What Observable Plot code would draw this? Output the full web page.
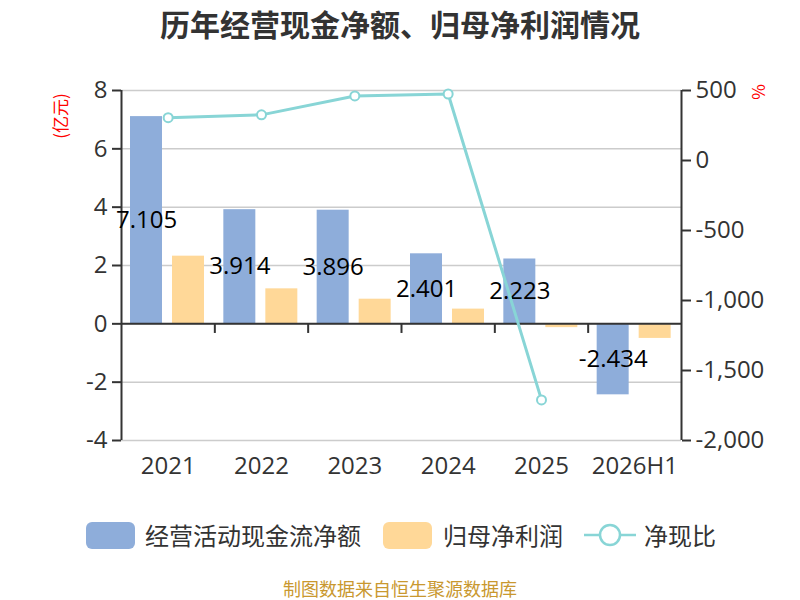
<!DOCTYPE html>
<html><head><meta charset="utf-8">
<script src="https://cdn.jsdelivr.net/npm/d3@7"></script>
<script src="https://cdn.jsdelivr.net/npm/@observablehq/plot@0.6"></script>
<style>
body{margin:0;background:#fff;}
#wrap{position:relative;width:800px;height:600px;overflow:hidden;font-family:"Open Sans","Noto Sans CJK SC",sans-serif;color:#333;}
#title{position:absolute;left:0;top:0;width:800px;text-align:center;line-height:46px;font-size:30px;font-weight:bold;font-family:"Noto Sans CJK SC",sans-serif;color:#333;}
#chart{position:absolute;left:0;top:0;}
.rot{position:absolute;transform:translate(-50%,-50%) rotate(-90deg);color:#f00;font-size:17px;font-family:"Noto Sans CJK SC",sans-serif;white-space:nowrap;}
.lg{position:absolute;font-size:24px;font-family:"Noto Sans CJK SC",sans-serif;color:#333;line-height:28px;white-space:nowrap;}
.sw{position:absolute;width:49px;height:27px;border-radius:6px;}
#caption{position:absolute;left:0;width:800px;top:576px;text-align:center;font-size:18px;line-height:24px;color:#c9982f;font-family:"Noto Sans CJK SC",sans-serif;}
</style></head><body>
<div id="wrap">
  <div id="chart"></div>
  <div id="title">历年经营现金净额、归母净利润情况</div>
  <div class="rot" style="left:59px;top:116px;">(亿元)</div>
  <div class="rot" style="left:757px;top:92px;">%</div>
  <div id="legend"></div>
  <div id="caption">制图数据来自恒生聚源数据库</div>
</div>
<script>
const years = ["2021", "2022", "2023", "2024", "2025", "2026H1"];
const cashFlow = [7.105, 3.914, 3.896, 2.401, 2.223, -2.434];
const netProfit = [2.32, 1.2, 0.845, 0.505, -0.13, -0.5];
const ratio = [306, 326, 461, 475, -1710, null];
const leftTicks = [-4, -2, 0, 2, 4, 6, 8];
const rightTicks = [-2000, -1500, -1000, -500, 0, 500];
const seriesNames = ["经营活动现金流净额", "归母净利润", "净现比"];
const colors = ["#8eadda", "#ffd898", "#88d5d6"];

const leftDomain = [-4, 8], rightDomain = [-2000, 500];
const toLeft = r => leftDomain[0] + (r - rightDomain[0]) / (rightDomain[1] - rightDomain[0]) * (leftDomain[1] - leftDomain[0]);
const fromLeft = v => rightDomain[0] + (v - leftDomain[0]) / (leftDomain[1] - leftDomain[0]) * (rightDomain[1] - rightDomain[0]);

const W = 800, H = 600, mL = 121, mR = 119, mT = 90, mB = 160;
const bw = (W - mL - mR) / years.length;
const rows = years.map((y, i) => ({year: y, cf: cashFlow[i], np: netProfit[i], r: ratio[i]}));
const lineRows = rows.filter(d => d.r != null);
const fnt = '"Open Sans","Noto Sans CJK SC",sans-serif';

const chart = Plot.plot({
  width: W, height: H,
  marginLeft: mL, marginRight: mR, marginTop: mT, marginBottom: mB,
  x: {type: "band", domain: years, padding: 0, round: false},
  y: {domain: leftDomain},
  style: {fontFamily: fnt, background: "transparent", color: "#333"},
  marks: [
    Plot.gridY(leftTicks, {stroke: "#cccccc", strokeOpacity: 1, strokeWidth: 1.5}),
    Plot.barY(rows, {x: "year", y: "cf", fill: colors[0], insetLeft: 9, insetRight: bw - 41}),
    Plot.barY(rows, {x: "year", y: "np", fill: colors[1], insetLeft: 51, insetRight: bw - 83}),
    Plot.ruleY([0], {stroke: "#333", strokeWidth: 2}),
    Plot.ruleX(years.slice(1), {x: d => d, y1: 0, y2: -0.33, dx: -bw / 2, stroke: "#333", strokeWidth: 2}),
    Plot.ruleX([years[0]], {x: d => d, y1: leftDomain[0], y2: leftDomain[1], dx: -bw / 2, stroke: "#333", strokeWidth: 2}),
    Plot.ruleX([years[years.length - 1]], {x: d => d, y1: leftDomain[0], y2: leftDomain[1], dx: bw / 2, stroke: "#333", strokeWidth: 2}),
    Plot.axisY(leftTicks, {anchor: "left", tickSize: 9, tickPadding: 5, fontSize: 24, label: null, tickFormat: d => String(d), stroke: "#333", strokeWidth: 2}),
    Plot.axisY(rightTicks.map(toLeft), {anchor: "right", tickSize: 9, tickPadding: 5, fontSize: 24, label: null, tickFormat: d => Math.round(fromLeft(d)).toLocaleString("en-US"), stroke: "#333", strokeWidth: 2}),
    Plot.axisX({anchor: "bottom", tickSize: 0, tickPadding: 16, fontSize: 24, label: null}),
    Plot.text(rows, {x: "year", y: d => d.cf / 2, text: d => d.cf.toFixed(3), dx: 25 - bw / 2, fontSize: 24, fill: "#000"}),
    Plot.line(lineRows, {x: "year", y: d => toLeft(d.r), stroke: colors[2], strokeWidth: 3}),
    Plot.dot(lineRows, {x: "year", y: d => toLeft(d.r), r: 4.5, fill: "#fff", stroke: colors[2], strokeWidth: 2})
  ]
});
document.getElementById("chart").appendChild(chart);

// legend
const lg = document.getElementById("legend");
const items = [
  {type: "rect", x: 86, tx: 145},
  {type: "rect", x: 383, tx: 443},
  {type: "line", x: 584, tx: 644}
];
items.forEach((it, i) => {
  if (it.type === "rect") {
    const s = document.createElement("div");
    s.className = "sw";
    s.style.left = it.x + "px"; s.style.top = "522px"; s.style.background = colors[i];
    lg.appendChild(s);
  } else {
    const s = document.createElementNS("http://www.w3.org/2000/svg", "svg");
    s.setAttribute("width", 52); s.setAttribute("height", 28);
    s.style.position = "absolute"; s.style.left = it.x + "px"; s.style.top = "521px";
    s.innerHTML = `<line x1="0" y1="14" x2="52" y2="14" stroke="${colors[2]}" stroke-width="2.5"/><circle cx="26" cy="14" r="10" fill="#fff" stroke="${colors[2]}" stroke-width="2.5"/>`;
    lg.appendChild(s);
  }
  const t = document.createElement("div");
  t.className = "lg";
  t.style.left = it.tx + "px"; t.style.top = "521px";
  t.textContent = seriesNames[i];
  lg.appendChild(t);
});
</script>
</body></html>
